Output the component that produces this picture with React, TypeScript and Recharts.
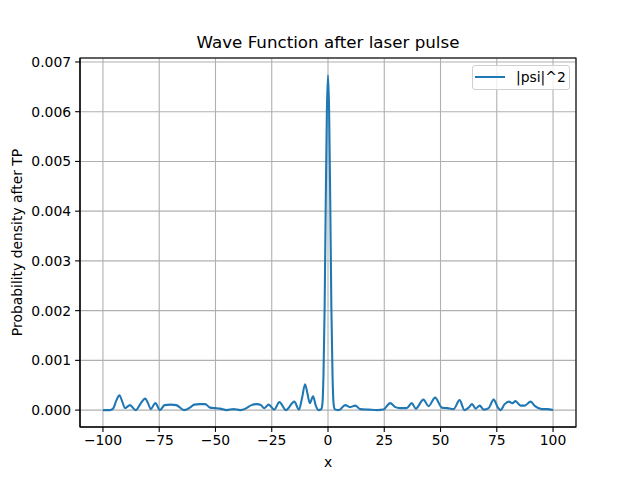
import { LineChart, Line, XAxis, YAxis, CartesianGrid, Legend } from 'recharts';

// x positions and |psi|^2 values
const xValues = [
  -100, -97, -95.5, -94, -92.7, -91.5, -90.2, -88, -85.5, -83, -81.3, -79.8, -78.8, -76.7, -74.7,
  -72.6, -70, -67.4, -64, -61, -59.5, -57, -54.6, -52.4, -50, -48, -45, -42, -39, -36.6, -34, -31.5,
  -29.8, -28.3, -26.4, -23.9, -21.6, -18.7, -15, -12.9, -11.5, -10.2, -9.2, -8.1, -6.6, -5.5, -4.2,
  -3, -2.5, -2, -1.5, -1, -0.5, 0, 0.5, 1, 1.5, 2, 2.5, 3, 4.5, 5.3, 7.6, 9.8, 12.1, 14.3,
  18, 22, 24.6, 27.6, 30, 32, 35, 37.2, 39, 42.4, 44.7, 47.6, 50.6, 53, 55.8, 58.5, 60.6, 62.5, 64,
  65.6, 67.4, 69.2, 71.4, 73.6, 75.5, 76.6, 78.5, 80.4, 81.9, 83.3, 85.6, 87.4, 90, 92, 95, 97.4, 100,
];

const psiSquared = [
  0, 0, 0.00003, 0.0002, 0.0003, 0.00018, 0.00004, 0.0001, 0, 0.00015, 0.00023, 0.00012, 0.00002,
  0.00014, 0, 0.0001, 0.00011, 0.0001, 0, 0.00006, 0.00011, 0.00012, 0.00012, 0.00005, 0.00004,
  0.00003, 0, 0.00002, 0, 0.00003, 0.0001, 0.00012, 0.0001, 0.00004, 0.00011, 0.00001, 0.00016, 0,
  0.00017, 0.00001, 0.00025, 0.00052, 0.00035, 0.00014, 0.00028, 0.0001, 0, 0.00002,
  0.00012, 0.00072, 0.00205, 0.00417, 0.006, 0.00673, 0.006, 0.00417, 0.00205, 0.00072, 0.00012,
  0.00002, 0, 0.00001, 0.0001, 0.00006, 0.00009, 0.00002, 0.00001, 0, 0.00001, 0.00014,
  0.00006, 0.00004, 0.00004, 0.00014, 0.00003, 0.00021, 0.00008, 0.00025, 0.00005, 0.00004, 0.00002,
  0.0002, 0, 0.00005, 0.00012, 0.00003, 0.00009, 0.00001, 0.00004, 0.00021, 0.00005, 0, 0.00012,
  0.00017, 0.00014, 0.00018, 0.00009, 0.00009, 0.00017, 0.00008, 0.00002, 0.00002, 0,
];

const xTicks = [-100, -75, -50, -25, 0, 25, 50, 75, 100];
const yTicks = [0, 0.001, 0.002, 0.003, 0.004, 0.005, 0.006, 0.007];

const data = xValues.map((x, i) => ({ x, psi: psiSquared[i] }));

const font = 'DejaVu Sans, sans-serif';
const tickStyle = { fontSize: 13.9, fill: '#000', fontFamily: font };
const minus = (v: string) => v.replace('-', '\u2212');

const left = 80;
const top = 58;
const right = 576;
const bottom = 427;

function LegendBox() {
  return (
    <div
      style={{
        width: 98,
        height: 25,
        boxSizing: 'border-box',
        border: '1px solid #d0d0d0',
        borderRadius: 3,
        background: 'rgba(255,255,255,0.8)',
        position: 'relative',
        fontFamily: font,
        fontSize: 13.9,
      }}
    >
      <div style={{ position: 'absolute', left: 2, top: 10, width: 30, height: 2, background: '#1f77b4' }} />
      <span style={{ position: 'absolute', left: 43, top: 3, lineHeight: '16px', color: '#000' }}>|psi|^2</span>
    </div>
  );
}

export default function App() {
  return (
    <div style={{ position: 'absolute', left: 0, top: 0, width: 640, height: 480, background: '#fff' }}>
      <LineChart width={640} height={480} data={data} margin={{ top, left: 0, right: 640 - right, bottom: 0 }}>
        <CartesianGrid stroke="#b0b0b0" strokeWidth={1.1} />
        <XAxis
          dataKey="x"
          type="number"
          domain={[-110.2, 110.2]}
          ticks={xTicks}
          height={480 - bottom}
          tick={tickStyle}
          tickSize={4.9}
          tickMargin={3}
          tickFormatter={(v: number) => minus(String(v))}
          tickLine={{ stroke: '#000', strokeWidth: 1.1 }}
          axisLine={{ stroke: '#000', strokeWidth: 1.1 }}
          allowDataOverflow
        />
        <YAxis
          type="number"
          domain={[-0.00034, 0.00708]}
          ticks={yTicks}
          width={left}
          tick={tickStyle}
          tickSize={4.9}
          tickMargin={4}
          tickFormatter={(v: number) => v.toFixed(3)}
          tickLine={{ stroke: '#000', strokeWidth: 1.1 }}
          axisLine={{ stroke: '#000', strokeWidth: 1.1 }}
          allowDataOverflow
        />
        <Line
          type="monotone"
          dataKey="psi"
          stroke="#1f77b4"
          strokeWidth={2.08}
          dot={false}
          isAnimationActive={false}
          name="|psi|^2"
        />
        <Legend
          layout="horizontal"
          verticalAlign="middle"
          align="center"
          wrapperStyle={{ left: 472, top: 65, width: 98, height: 25 }}
          content={() => <LegendBox />}
        />
        <rect x={left} y={top} width={right - left} height={bottom - top} fill="none" stroke="#000" strokeWidth={1.1} />
        <text x={(left + right) / 2} y={48} textAnchor="middle" fontFamily={font} fontSize={16.7} fill="#000">
          Wave Function after laser pulse
        </text>
        <text x={(left + right) / 2} y={467} textAnchor="middle" fontFamily={font} fontSize={13.9} fill="#000">
          x
        </text>
        <text
          x={0}
          y={0}
          transform={`translate(22, ${(top + bottom) / 2}) rotate(-90)`}
          textAnchor="middle"
          fontFamily={font}
          fontSize={13.9}
          fill="#000"
        >
          Probability density after TP
        </text>
      </LineChart>
    </div>
  );
}
